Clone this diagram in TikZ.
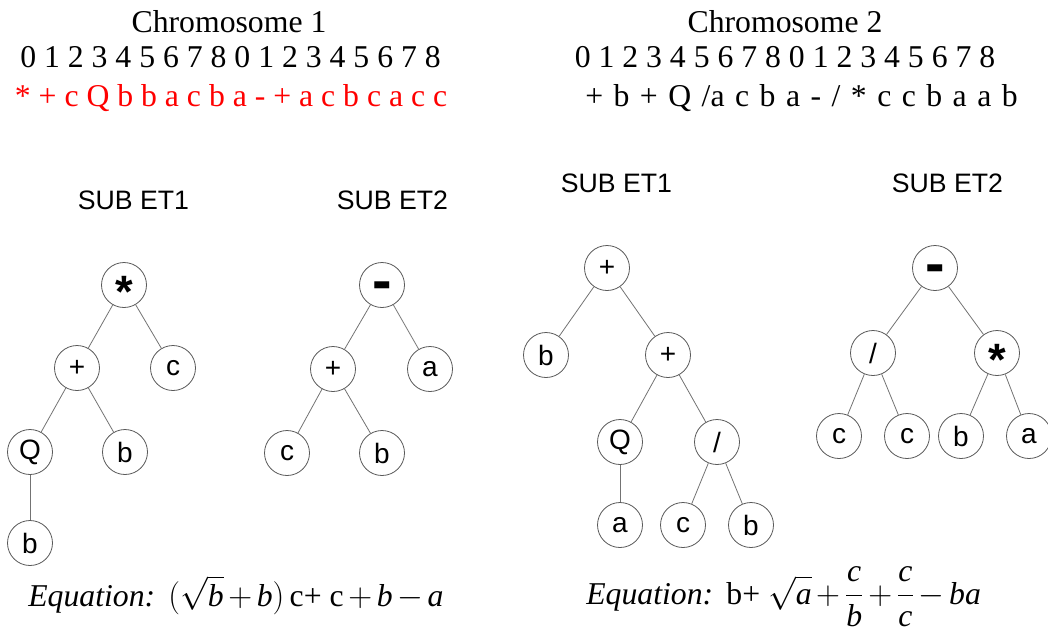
\documentclass[tikz,border=0pt]{standalone}
\usepackage{fontspec}
\usepackage{amsmath}
\setmainfont{Liberation Serif}
\newfontfamily\arialf{Liberation Sans}
\begin{document}
\begin{tikzpicture}[x=0.75pt,y=-0.75pt,
  nd/.style={circle,draw=black!65,line width=0.6pt,minimum size=33.75pt,inner sep=0pt,font=\arialf\fontsize{21}{21}\selectfont},
  ed/.style={draw=black!55,line width=0.6pt},
  big/.style={font=\fontsize{23.8}{28}\selectfont,inner sep=0pt,anchor=base},
  sub/.style={font=\arialf\fontsize{20}{24}\selectfont,inner sep=0pt,anchor=base}]
\useasboundingbox (0,0) rectangle (1048,637);
\newcommand{\starsym}{{\fontsize{34}{34}\selectfont\raisebox{-0.5em}[0pt][0pt]{\bfseries *}}}
\newcommand{\minussym}{{\fontsize{44}{44}\selectfont\raisebox{-0.27em}[0pt][0pt]{\bfseries -}}}
% headers
\node[big] (t1) at (229,32) {Chromosome 1};
\node[big] (n1) at (230.5,67) {0 1 2 3 4 5 6 7 8 0 1 2 3 4 5 6 7 8};
\node[big,text=red] (g1) at (231,106) {* + c Q b b a c b a - + a c b c a c c};
\node[big] (t2) at (785,32) {Chromosome 2};
\node[big] (n2) at (785,67) {0 1 2 3 4 5 6 7 8 0 1 2 3 4 5 6 7 8};
\node[big,anchor=base west] (g2) at (585,106) {\spaceskip=0.33em\relax + b + Q /a c b a - / * c c b a a b};
% sub labels
\node[sub] (l1) at (133.5,209) {SUB ET1};
\node[sub] (l2) at (392.5,209) {SUB ET2};
\node[sub] (l3) at (616.5,192) {SUB ET1};
\node[sub] (l4) at (947.5,192) {SUB ET2};
% chromosome 1, sub ET1
\node[nd] (s1) at (124,285) {\starsym};
\node[nd] (p1) at (77,368) {+};
\node[nd] (c1) at (173,368) {c};
\node[nd] (q1) at (30,452) {Q};
\node[nd] (b1) at (125,452) {b};
\node[nd] (b2) at (30,543) {b};
\draw[ed] (s1) -- (p1); \draw[ed] (s1) -- (c1);
\draw[ed] (p1) -- (q1); \draw[ed] (p1) -- (b1);
\draw[ed] (q1) -- (b2);
% chromosome 1, sub ET2
\node[nd] (m1) at (382,285) {\minussym};
\node[nd] (p2) at (333,369) {+};
\node[nd] (a1) at (430,369) {a};
\node[nd] (c2) at (287,453) {c};
\node[nd] (b3) at (382,453) {b};
\draw[ed] (m1) -- (p2); \draw[ed] (m1) -- (a1);
\draw[ed] (p2) -- (c2); \draw[ed] (p2) -- (b3);
% chromosome 2, sub ET1
\node[nd] (p3) at (607,268) {+};
\node[nd] (b4) at (546,355) {b};
\node[nd] (p4) at (668,355) {+};
\node[nd] (q2) at (620,442) {Q};
\node[nd] (d1) at (717,442) {/};
\node[nd] (a2) at (620,525) {a};
\node[nd] (c3) at (683,525) {c};
\node[nd] (b5) at (751,525) {b};
\draw[ed] (p3) -- (b4); \draw[ed] (p3) -- (p4);
\draw[ed] (p4) -- (q2); \draw[ed] (p4) -- (d1);
\draw[ed] (q2) -- (a2);
\draw[ed] (d1) -- (c3); \draw[ed] (d1) -- (b5);
% chromosome 2, sub ET2
\node[nd] (m2) at (935,268) {\minussym};
\node[nd] (d2) at (873,353) {/};
\node[nd] (s2) at (997,353) {\starsym};
\node[nd] (c4) at (839,436) {c};
\node[nd] (c5) at (907,436) {c};
\node[nd] (b6) at (961,436) {b};
\node[nd] (a3) at (1029,436) {a};
\draw[ed] (m2) -- (d2); \draw[ed] (m2) -- (s2);
\draw[ed] (d2) -- (c4); \draw[ed] (d2) -- (c5);
\draw[ed] (s2) -- (b6); \draw[ed] (s2) -- (a3);
% equations
\node[big,anchor=base west] (e1) at (28,606) {\medmuskip=2.5mu\relax\textit{Equation:}\ \,$(\sqrt{\textit{b}}+\textit{b})$\,c+ $\text{c}+\textit{b}-\textit{a}$};
\node[big,anchor=base west] (e2) at (586,604) {\medmuskip=2.5mu\relax\textit{Equation:}\ \,b+ $\displaystyle\sqrt{\textit{a}}+\frac{\textit{c}}{\textit{b}}+\frac{\textit{c}}{\textit{c}}-\textit{ba}$};
\end{tikzpicture}
\end{document}
